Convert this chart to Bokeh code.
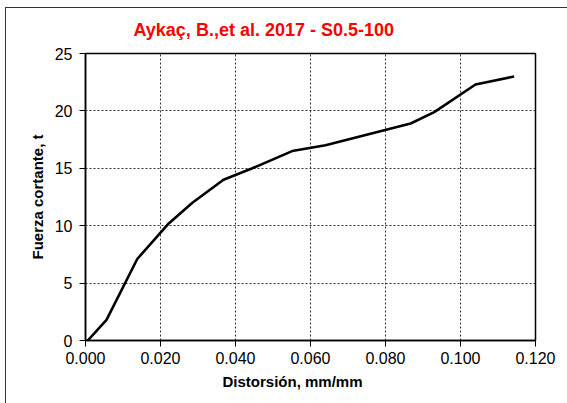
from bokeh.plotting import figure
from bokeh.models import Range1d, FixedTicker, NumeralTickFormatter, Title
from bokeh.embed import file_html
from bokeh.resources import INLINE

# Data
distorsion = [0.0006, 0.0056, 0.0138, 0.0222, 0.0285, 0.0368, 0.0445, 0.0551,
              0.0640, 0.0867, 0.0930, 0.1040, 0.1143]
fuerza = [0.0, 1.8, 7.1, 10.2, 12.0, 14.0, 15.0, 16.5,
          17.0, 18.9, 19.9, 22.3, 23.0]
x_ticks = [0.0, 0.02, 0.04, 0.06, 0.08, 0.10, 0.12]
y_ticks = [0, 5, 10, 15, 20, 25]

title_text = "Aykaç, B.,et al. 2017 - S0.5-100"
x_label = "Distorsión, mm/mm"
y_label = "Fuerza cortante, t"

FONT = "Liberation Sans"

p = figure(width=567, height=403, output_backend="svg", toolbar_location=None,
           x_range=Range1d(0, 0.12), y_range=Range1d(0, 25),
           min_border_left=85, min_border_right=32, min_border_top=53, min_border_bottom=63)

p.title.text = title_text
p.title.align = "left"
p.title.offset = 48
p.title.text_font = FONT
p.title.text_font_style = "bold"
p.title.text_font_size = "18px"
p.title.text_color = "#ff0000"
p.title.standoff = 28

p.line(distorsion, fuerza, line_color="black", line_width=2.6)

for ax in (p.xaxis[0], p.yaxis[0]):
    ax.axis_line_color = "black"
    ax.axis_line_width = 1.5
    ax.major_tick_line_color = "black"
    ax.major_tick_line_width = 1
    ax.major_tick_out = 6
    ax.major_tick_in = 0
    ax.minor_tick_line_color = None
    ax.major_label_text_font = FONT
    ax.major_label_text_font_size = "16px"
    ax.major_label_text_color = "black"
    ax.axis_label_text_font = FONT
    ax.axis_label_text_font_style = "bold"
    ax.axis_label_text_font_size = "15px"
    ax.axis_label_text_color = "black"

p.xaxis[0].ticker = FixedTicker(ticks=x_ticks)
p.xaxis[0].formatter = NumeralTickFormatter(format="0.000")
p.xaxis[0].major_label_standoff = 5
p.yaxis[0].ticker = FixedTicker(ticks=y_ticks)
p.yaxis[0].major_label_standoff = 7
p.yaxis[0].axis_label = y_label
p.yaxis[0].axis_label_standoff = 6

xl = Title(text=x_label, align="left", offset=137, text_font=FONT,
           text_font_style="bold", text_font_size="15px", text_color="black",
           standoff=8)
p.add_layout(xl, "below")

for g in (p.xgrid[0], p.ygrid[0]):
    g.grid_line_color = "#303030"
    g.grid_line_width = 1
    g.grid_line_dash = "2 2"

p.outline_line_color = "black"
p.outline_line_width = 1.5
p.background_fill_color = "white"
p.border_fill_alpha = 0

# outer chart border (left and top edges), drawn behind the transparent canvas border
p.styles = {
    "background-color": "white",
    "box-shadow": "inset 5px 7px 0 0 white, inset 6px 8px 0 0 #333333",
}

open("out.html", "w").write(file_html(p, INLINE))
